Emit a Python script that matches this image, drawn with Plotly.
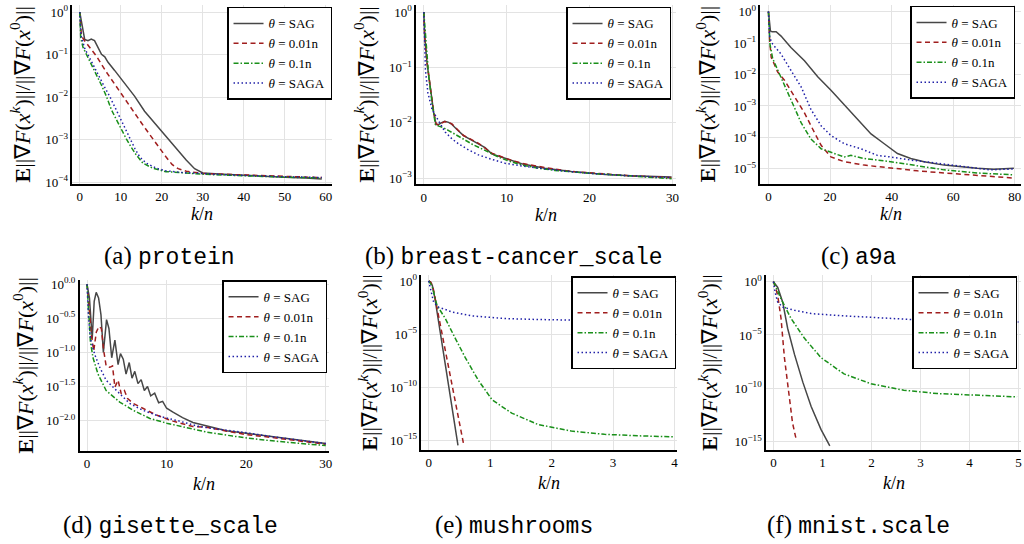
import plotly.graph_objects as go

W, H = 1024, 544

# ---------------- data ----------------
series_names = ["<i>θ</i> = SAG", "<i>θ</i> = 0.01n", "<i>θ</i> = 0.1n", "<i>θ</i> = SAGA"]

# (a) protein
a_sag_x = [0, 0.6, 1.2, 2.0, 2.8, 3.6, 4.5, 5.3, 6.1, 6.9, 8.5, 10.1, 11.7, 13.4, 15.8, 18, 20, 22, 24, 26, 28, 29, 30, 35, 40, 45, 50, 55, 59]
a_sag_y = [1.0, 0.427, 0.229, 0.214, 0.234, 0.214, 0.148, 0.102, 0.0891, 0.0661, 0.0427, 0.0275, 0.0178, 0.0105, 4.68e-3, 2.63e-3, 1.51e-3, 8.91e-4, 5.37e-4, 3.31e-4, 2.09e-4, 1.82e-4, 1.66e-4, 1.55e-4, 1.45e-4, 1.38e-4, 1.32e-4, 1.26e-4, 1.20e-4]
a_r01_x = [0, 0.4, 1.0, 1.6, 2.4, 4.05, 6.5, 8.9, 11.3, 13, 15, 17, 19, 21, 22.5, 24, 26, 28, 30, 35, 40, 45, 50, 55, 59]
a_r01_y = [1.0, 0.282, 0.224, 0.186, 0.151, 0.0933, 0.0389, 0.0178, 7.94e-3, 4.68e-3, 2.51e-3, 1.35e-3, 7.24e-4, 3.98e-4, 2.63e-4, 2.09e-4, 1.82e-4, 1.70e-4, 1.62e-4, 1.55e-4, 1.48e-4, 1.41e-4, 1.35e-4, 1.32e-4, 1.29e-4]
a_r1_x = [0, 0.24, 0.8, 2.0, 2.8, 4.05, 5.3, 6.5, 7.7, 8.9, 10, 11.35, 12.5, 13.8, 15.4, 17.8, 21, 25, 30, 35, 40, 45, 50, 55, 59]
a_r1_y = [1.0, 0.251, 0.148, 0.0871, 0.0603, 0.0324, 0.0191, 0.0105, 5.13e-3, 3.02e-3, 1.82e-3, 1.05e-3, 6.76e-4, 4.37e-4, 2.82e-4, 2.14e-4, 1.78e-4, 1.66e-4, 1.55e-4, 1.48e-4, 1.41e-4, 1.35e-4, 1.32e-4, 1.29e-4, 1.26e-4]
a_saga_x = [0, 0.3, 1.2, 2.4, 3.6, 4.9, 6.1, 7.3, 8.5, 9.7, 11, 12.2, 13.4, 14.6, 16.2, 18.7, 21, 25, 30, 35, 40, 45, 50, 55, 59]
a_saga_y = [1.0, 0.282, 0.141, 0.0832, 0.0479, 0.0282, 0.0170, 0.0105, 6.03e-3, 3.31e-3, 1.82e-3, 1.05e-3, 6.31e-4, 3.98e-4, 2.82e-4, 2.14e-4, 1.86e-4, 1.70e-4, 1.58e-4, 1.51e-4, 1.45e-4, 1.38e-4, 1.35e-4, 1.32e-4, 1.29e-4]

# (b) breast-cancer_scale
b_sag_x = [0, 0.12, 0.4, 0.8, 1.2, 1.48, 1.8, 2.1, 2.53, 3.0, 3.4, 4.0, 4.8, 5.6, 6.6, 7.4, 8.2, 9.0, 9.8, 11.8, 14.6, 17.8, 21.9, 25.0, 29.9]
b_sag_y = [1.0, 0.347, 0.117, 0.0389, 0.0151, 9.33e-3, 9.33e-3, 0.0100, 0.0107, 0.0102, 9.33e-3, 7.59e-3, 5.89e-3, 5.01e-3, 4.17e-3, 3.55e-3, 2.75e-3, 2.51e-3, 2.24e-3, 1.82e-3, 1.51e-3, 1.32e-3, 1.17e-3, 1.10e-3, 1.05e-3]
b_r01_x = [0, 0.12, 0.4, 0.8, 1.2, 1.48, 1.8, 2.1, 2.53, 3.0, 3.4, 4.0, 4.8, 5.6, 6.6, 7.4, 8.2, 9.0, 9.8, 11.8, 14.6, 17.8, 21.9, 25.0, 29.9]
b_r01_y = [1.0, 0.355, 0.120, 0.0398, 0.0155, 9.55e-3, 9.12e-3, 9.77e-3, 0.0105, 0.0102, 9.55e-3, 7.76e-3, 5.89e-3, 5.13e-3, 4.27e-3, 3.47e-3, 2.82e-3, 2.57e-3, 2.29e-3, 1.86e-3, 1.55e-3, 1.32e-3, 1.17e-3, 1.10e-3, 1.02e-3]
b_r1_x = [0, 0.28, 0.6, 1.0, 1.4, 1.8, 2.4, 3.0, 4.0, 5.0, 6.0, 7.0, 8.0, 9.0, 10.4, 11.8, 13.8, 15.8, 19.9, 23.9, 27, 29.9]
b_r1_y = [1.0, 0.229, 0.0676, 0.0229, 9.33e-3, 8.71e-3, 8.13e-3, 7.24e-3, 5.89e-3, 4.79e-3, 3.98e-3, 3.39e-3, 2.82e-3, 2.40e-3, 2.0e-3, 1.74e-3, 1.51e-3, 1.38e-3, 1.23e-3, 1.12e-3, 1.05e-3, 9.77e-4]
b_saga_x = [0, 0.1, 0.2, 0.5, 1.0, 1.8, 2.6, 3.4, 4.2, 5.4, 6.6, 8.2, 9.8, 11.8, 13.8, 16.8, 19.9, 24, 29.9]
b_saga_y = [1.0, 0.251, 0.0891, 0.0347, 0.0174, 0.0107, 6.76e-3, 5.13e-3, 4.17e-3, 3.24e-3, 2.63e-3, 2.19e-3, 1.86e-3, 1.66e-3, 1.51e-3, 1.35e-3, 1.23e-3, 1.12e-3, 1.02e-3]

# (c) a9a
c_sag_x = [0, 0.65, 1.2, 2.5, 4.1, 7.3, 11.7, 16, 20.3, 24.6, 28.9, 33.3, 37.6, 41.9, 46.2, 50.5, 57, 62.4, 67.8, 73.2, 76, 79.7]
c_sag_y = [1.0, 0.24, 0.229, 0.229, 0.166, 0.0724, 0.0275, 8.51e-3, 3.16e-3, 1.12e-3, 3.80e-4, 1.29e-4, 6.31e-5, 3.09e-5, 2.14e-5, 1.70e-5, 1.32e-5, 1.17e-5, 1.05e-5, 9.77e-6, 1.0e-5, 1.05e-5]
c_r01_x = [0, 0.4, 0.9, 3.0, 5.2, 8.4, 11.7, 14.9, 17.1, 20.3, 24.6, 31.1, 39.7, 48.4, 57, 67.8, 79.7]
c_r01_y = [1.0, 0.117, 0.0355, 0.0120, 6.61e-3, 2.0e-3, 6.03e-4, 1.45e-4, 5.62e-5, 2.40e-5, 1.70e-5, 1.32e-5, 1.05e-5, 8.71e-6, 7.41e-6, 6.17e-6, 5.13e-6]
c_r1_x = [0, 0.5, 1.4, 4.1, 7.3, 10.6, 13.8, 17.1, 20.3, 24.6, 26.8, 31.1, 39.7, 48.4, 57, 67.8, 79.7]
c_r1_y = [1.0, 0.0912, 0.0316, 8.51e-3, 1.58e-3, 2.95e-4, 8.91e-5, 4.37e-5, 3.31e-5, 2.40e-5, 2.69e-5, 2.14e-5, 1.70e-5, 1.26e-5, 9.33e-6, 7.41e-6, 6.46e-6]
c_saga_x = [0, 0.4, 1.4, 4.1, 7.3, 10.6, 13.8, 17.1, 20.3, 24.6, 30, 35.4, 39.7, 46.2, 54.9, 63.5, 72.1, 79.7]
c_saga_y = [1.0, 0.148, 0.0912, 0.0447, 0.0135, 4.07e-3, 7.76e-4, 2.34e-4, 1.15e-4, 6.31e-5, 4.37e-5, 2.69e-5, 2.40e-5, 1.91e-5, 1.51e-5, 1.17e-5, 9.33e-6, 1.0e-5]

# (d) gisette_scale
d_sag_x = [0, 0.3, 0.65, 0.9, 1.15, 1.45, 1.75, 2.05, 2.45, 2.75, 3.1, 3.5, 3.9, 4.2, 4.55, 4.9, 5.3, 5.65, 6.0, 6.4, 6.8, 7.2, 7.6, 8.0, 8.5, 9.0, 9.5, 10, 10.8, 12, 13.3, 15, 17.5, 20, 22.5, 25, 27.5, 30]
d_sag_y = [1.0, 0.631, 0.158, 0.562, 0.759, 0.631, 0.355, 0.100, 0.302, 0.224, 0.0832, 0.151, 0.0661, 0.0955, 0.0794, 0.0479, 0.0708, 0.0417, 0.0525, 0.0347, 0.0398, 0.0275, 0.0316, 0.0229, 0.0251, 0.0182, 0.0191, 0.0151, 0.0132, 0.0110, 9.33e-3, 8.32e-3, 7.08e-3, 6.46e-3, 5.89e-3, 5.37e-3, 5.01e-3, 4.57e-3]
d_r01_x = [0, 0.25, 0.54, 0.84, 1.17, 1.5, 1.8, 2.1, 2.4, 2.85, 3.2, 3.5, 3.9, 4.3, 4.7, 5.1, 5.8, 7, 8.7, 10.8, 13.3, 15, 17.5, 20, 22.5, 25, 30]
d_r01_y = [1.0, 0.49, 0.182, 0.105, 0.2, 0.24, 0.224, 0.105, 0.0631, 0.0603, 0.0631, 0.0309, 0.0389, 0.0245, 0.0275, 0.0209, 0.0178, 0.0151, 0.0120, 9.77e-3, 8.13e-3, 7.94e-3, 6.92e-3, 6.17e-3, 5.75e-3, 5.25e-3, 4.47e-3]
d_r1_x = [0, 0.17, 0.42, 0.75, 1.38, 2.4, 4.1, 5.8, 7.9, 10, 12.5, 15, 18.3, 21.6, 25, 30]
d_r1_y = [1.0, 0.437, 0.145, 0.0832, 0.0479, 0.0275, 0.0186, 0.0141, 0.0107, 9.12e-3, 7.76e-3, 6.76e-3, 5.89e-3, 5.25e-3, 4.79e-3, 4.27e-3]
d_saga_x = [0, 0.17, 0.42, 0.96, 1.6, 2.4, 3.7, 5.35, 7, 9.1, 11.6, 14.1, 16.6, 20, 23.3, 26.7, 30]
d_saga_y = [1.0, 0.347, 0.162, 0.0933, 0.0603, 0.0389, 0.0275, 0.0178, 0.0141, 0.0115, 9.77e-3, 8.13e-3, 7.41e-3, 6.61e-3, 5.75e-3, 5.13e-3, 4.57e-3]

# (e) mushrooms
e_sag_x = [0, 0.03, 0.06, 0.1, 0.2, 0.3, 0.4, 0.476]
e_sag_y = [1.0, 0.794, 0.355, 0.0251, 5.01e-6, 1.26e-9, 2.51e-13, 3.16e-16]
e_r01_x = [0, 0.03, 0.065, 0.1, 0.2, 0.3, 0.4, 0.5, 0.568]
e_r01_y = [1.0, 0.794, 0.347, 0.0316, 2.51e-5, 2.51e-8, 3.16e-11, 3.98e-14, 3.98e-16]
e_r1_x = [0, 0.054, 0.135, 0.27, 0.43, 0.595, 0.81, 1.03, 1.35, 1.78, 2.32, 2.86, 3.4, 4.0]
e_r1_y = [1.0, 0.347, 5.01e-3, 2.88e-4, 4.17e-6, 5.89e-8, 4.17e-10, 6.31e-12, 3.47e-13, 2.88e-14, 7.08e-15, 3.47e-15, 2.51e-15, 2.0e-15]
e_saga_x = [0, 0.027, 0.08, 0.16, 0.38, 0.70, 1.24, 1.78, 2.32, 2.86, 3.4, 4.0]
e_saga_y = [1.0, 0.17, 0.01, 3.47e-3, 1.20e-3, 5.13e-4, 2.88e-4, 2.34e-4, 2.04e-4, 1.78e-4, 1.66e-4, 1.41e-4]

# (f) mnist.scale
f_sag_x = [0, 0.088, 0.19, 0.29, 0.43, 0.6, 0.77, 0.97, 1.15]
f_sag_y = [1.0, 0.282, 0.0117, 4.27e-5, 1.51e-7, 3.80e-10, 2.0e-12, 1.41e-14, 3.98e-16]
f_r01_x = [0, 0.034, 0.088, 0.156, 0.224, 0.325, 0.39, 0.47]
f_r01_y = [1.0, 0.398, 0.049, 3.47e-4, 7.94e-8, 7.94e-12, 5.75e-14, 1.26e-15]
f_r1_x = [0, 0.054, 0.156, 0.36, 0.63, 0.97, 1.44, 1.99, 2.66, 3.34, 4.02, 4.97]
f_r1_y = [1.0, 0.282, 0.024, 3.47e-4, 5.13e-6, 7.59e-8, 2.24e-9, 2.69e-10, 6.61e-11, 3.24e-11, 2.29e-11, 1.58e-11]
f_saga_x = [0, 0.034, 0.088, 0.19, 0.43, 0.77, 1.44, 2.12, 2.8, 3.5, 4.2, 5.0]
f_saga_y = [1.0, 0.1, 0.0117, 4.07e-3, 2.04e-3, 1.0e-3, 6.17e-4, 4.07e-4, 2.82e-4, 2.24e-4, 1.91e-4, 1.66e-4]

captions = ["protein", "breast-cancer_scale", "a9a", "gisette_scale", "mushrooms", "mnist.scale"]
caption_letters = ["(a)", "(b)", "(c)", "(d)", "(e)", "(f)"]

a_xticks = [0, 10, 20, 30, 40, 50, 60]
b_xticks = [0, 10, 20, 30]
c_xticks = [0, 20, 40, 60, 80]
d_xticks = [0, 10, 20, 30]
e_xticks = [0, 1, 2, 3, 4]
f_xticks = [0, 1, 2, 3, 4, 5]

a_yexp = ["0", "−1", "−2", "−3", "−4"]
b_yexp = ["0", "−1", "−2", "−3"]
c_yexp = ["0", "−1", "−2", "−3", "−4", "−5"]
d_yexp = ["0.0", "−0.5", "−1.0", "−1.5", "−2.0"]
e_yexp = ["0", "−5", "−10", "−15"]
f_yexp = ["0", "−5", "−10", "−15"]

# ---------------- styling ----------------
SERIF = "Liberation Serif"
MONO = "Liberation Mono"
styles = [
    dict(color="#474747", width=1.5, dash="solid"),
    dict(color="#a01e1e", width=1.5, dash="5px,3.5px"),
    dict(color="#1a901a", width=1.5, dash="5px,2px,1.5px,2px"),
    dict(color="#2020a8", width=1.5, dash="1.5px,2.5px"),
]

data = [
    [(a_sag_x, a_sag_y), (a_r01_x, a_r01_y), (a_r1_x, a_r1_y), (a_saga_x, a_saga_y)],
    [(b_sag_x, b_sag_y), (b_r01_x, b_r01_y), (b_r1_x, b_r1_y), (b_saga_x, b_saga_y)],
    [(c_sag_x, c_sag_y), (c_r01_x, c_r01_y), (c_r1_x, c_r1_y), (c_saga_x, c_saga_y)],
    [(d_sag_x, d_sag_y), (d_r01_x, d_r01_y), (d_r1_x, d_r1_y), (d_saga_x, d_saga_y)],
    [(e_sag_x, e_sag_y), (e_r01_x, e_r01_y), (e_r1_x, e_r1_y), (e_saga_x, e_saga_y)],
    [(f_sag_x, f_sag_y), (f_r01_x, f_r01_y), (f_r1_x, f_r1_y), (f_saga_x, f_saga_y)],
]
xticks = [a_xticks, b_xticks, c_xticks, d_xticks, e_xticks, f_xticks]
yexps = [a_yexp, b_yexp, c_yexp, d_yexp, e_yexp, f_yexp]

# layout geometry in pixels: plot box (left, right, top, bottom), axis ranges
panels = [
    dict(box=(72.5, 333, 0, 182.7), xr=[-1.82, 61.5], yr=[-4.04, 0.168], leg=(333, 2), ylab=20, cap=(170, 257), kn=31),
    dict(box=(417.3, 678, 0, 183), xr=[-0.93, 30.43], yr=[-3.111, 0.129], leg=(673, 2), ylab=365, cap=(516, 257), kn=31),
    dict(box=(762.7, 1024, 0, 182.3), xr=[-2.59, 82.0], yr=[-5.467, 0.209], leg=(1018, 1), ylab=708, cap=(862, 257), kn=31),
    dict(box=(80, 330, 281, 455), xr=[-0.915, 30.41], yr=[-2.446, 0.058], leg=(328, 281), ylab=23, cap=(171, 531), kn=34),
    dict(box=(422.7, 679, 276, 454.3), xr=[-0.118, 4.04], yr=[-15.95, 0.527], leg=(678, 277), ylab=369, cap=(516, 531), kn=34),
    dict(box=(768.3, 1024, 276, 454.3), xr=[-0.15, 5.05], yr=[-15.79, 0.578], leg=(1020, 277), ylab=710, cap=(861, 531), kn=34),
]

ylabel = "<b>E</b>||∇<i>F</i>(<i>x</i><sup><i>k</i></sup>)||/||∇<i>F</i>(<i>x</i><sup>0</sup>)||"

fig = go.Figure()
layout = dict(
    width=W, height=H, margin=dict(l=0, r=0, t=0, b=0),
    paper_bgcolor="white", plot_bgcolor="white",
    font=dict(family=SERIF, size=13, color="black"),
)
annotations = []

for i, (p, series) in enumerate(zip(panels, data), start=1):
    legname = "legend" if i == 1 else f"legend{i}"
    for name, st, (xs, ys) in zip(series_names, styles, series):
        fig.add_trace(go.Scatter(
            x=xs, y=ys, mode="lines", name=name, line=st,
            xaxis=f"x{i}", yaxis=f"y{i}", legend=legname,
        ))
    l, r, t, b = p["box"]
    sfx = "" if i == 1 else str(i)
    exps = yexps[i - 1]
    yvals = [10 ** float(e.replace("−", "-")) for e in exps]
    layout[f"xaxis{sfx}"] = dict(
        domain=[l / W, r / W], anchor=f"y{i}", range=p["xr"],
        tickvals=xticks[i - 1], ticktext=[str(v) for v in xticks[i - 1]],
        showgrid=True, gridcolor="#e3e3e3", gridwidth=1,
        showline=True, linecolor="black", linewidth=1.5, zeroline=False,
        ticks="", tickfont=dict(family=SERIF, size=13), ticklabeloverflow="allow",
    )
    layout[f"yaxis{sfx}"] = dict(
        domain=[1 - b / H, 1 - t / H], anchor=f"x{i}", type="log", range=p["yr"],
        tickvals=yvals, ticktext=[f"10<sup>{e}</sup>" for e in exps],
        showgrid=True, gridcolor="#e3e3e3", gridwidth=1,
        showline=True, linecolor="black", linewidth=1.5, zeroline=False,
        ticks="", tickfont=dict(family=SERIF, size=13), ticklabeloverflow="allow",
    )
    lx, ly = p["leg"]
    layout[legname] = dict(
        x=lx / W, y=1 - ly / H, xanchor="right", yanchor="top",
        xref="paper", yref="paper",
        bgcolor="white", bordercolor="black", borderwidth=1.5,
        font=dict(family=SERIF, size=13), tracegroupgap=0, itemwidth=30,
    )
    # axis titles
    annotations.append(dict(
        x=(l + r) / 2 / W, y=1 - (b + p["kn"]) / H, xref="paper", yref="paper",
        text="<i>k</i>/<i>n</i>", showarrow=False, font=dict(family=SERIF, size=18),
        xanchor="center", yanchor="middle",
    ))
    annotations.append(dict(
        x=p["ylab"] / W, y=1 - (t + b) / 2 / H, xref="paper", yref="paper",
        text=ylabel, textangle=-90, showarrow=False, font=dict(family=SERIF, size=22),
        xanchor="center", yanchor="middle",
    ))
    cx, cy = p["cap"]
    annotations.append(dict(
        x=cx / W, y=1 - cy / H, xref="paper", yref="paper",
        text=f"{caption_letters[i-1]} <span style='font-family:{MONO};font-size:23px'>{captions[i-1]}</span>",
        showarrow=False, font=dict(family=SERIF, size=25),
        xanchor="center", yanchor="middle",
    ))

layout["annotations"] = annotations
fig.update_layout(**layout)
fig.write_html(
    "out.html",
    config={"displayModeBar": False},
    post_script="document.body.style.margin='0px';",
)
